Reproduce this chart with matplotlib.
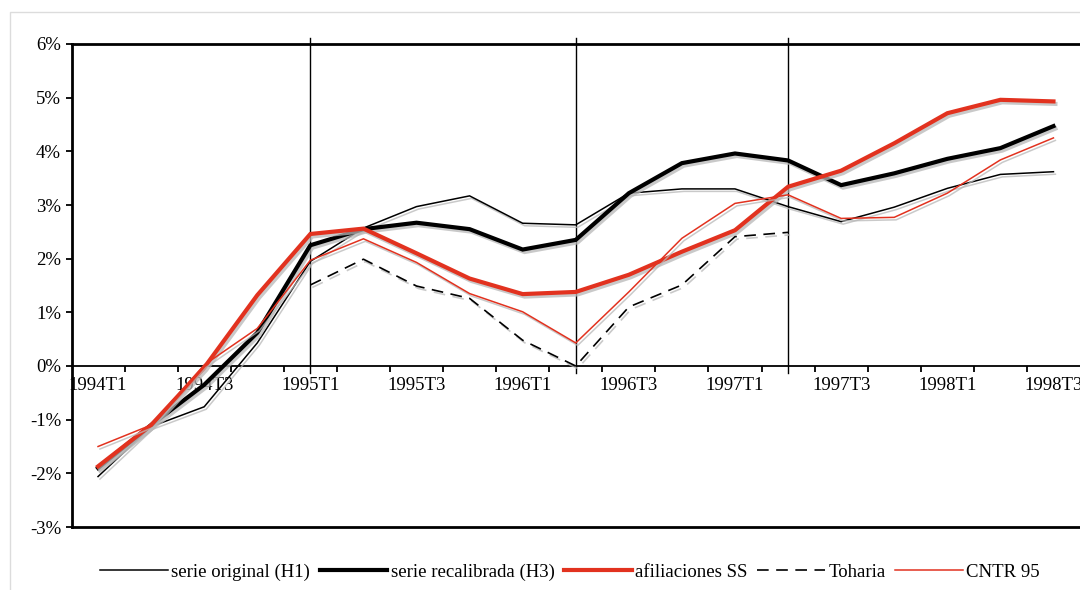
import numpy as np
import matplotlib
matplotlib.use("Agg")
import matplotlib.pyplot as plt
from matplotlib import patheffects as pe
from matplotlib.lines import Line2D
from matplotlib.patches import Rectangle
from matplotlib.ticker import FixedLocator, FuncFormatter

plt.rcParams['font.family'] = ['Liberation Serif', 'DejaVu Serif']

# ---------------- data ----------------
quarters = ['1994T1', '1994T2', '1994T3', '1994T4',
            '1995T1', '1995T2', '1995T3', '1995T4',
            '1996T1', '1996T2', '1996T3', '1996T4',
            '1997T1', '1997T2', '1997T3', '1997T4',
            '1998T1', '1998T2', '1998T3']

serie_original_h1 = [-2.06, -1.13, -0.76, 0.43, 1.95, 2.57, 2.97, 3.17, 2.66, 2.63,
                     3.22, 3.30, 3.30, 2.97, 2.69, 2.96, 3.31, 3.57, 3.62]
serie_recalibrada_h3 = [-1.90, -1.10, -0.35, 0.62, 2.25, 2.55, 2.67, 2.55, 2.17, 2.35,
                        3.22, 3.78, 3.96, 3.83, 3.37, 3.59, 3.86, 4.06, 4.47]
afiliaciones_ss = [-1.87, -1.10, -0.03, 1.32, 2.46, 2.56, 2.10, 1.63, 1.34, 1.38,
                   1.70, 2.13, 2.53, 3.34, 3.64, 4.15, 4.71, 4.96, 4.93]
toharia = [np.nan, np.nan, np.nan, np.nan, 1.51, 1.99, 1.49, 1.26, 0.48, 0.00,
           1.10, 1.51, 2.41, 2.49, np.nan, np.nan, np.nan, np.nan, np.nan]
cntr_95 = [-1.50, -1.10, 0.02, 0.70, 1.97, 2.37, 1.93, 1.35, 1.01, 0.43,
           1.38, 2.38, 3.03, 3.19, 2.75, 2.77, 3.22, 3.84, 4.25]

labels = ['serie original (H1)', 'serie recalibrada (H3)', 'afiliaciones SS',
          'Toharia', 'CNTR 95']
separators = ['1995T1', '1996T2', '1997T2']
y_ticks = [-3, -2, -1, 0, 1, 2, 3, 4, 5, 6]

# ---------------- figure ----------------
fig = plt.figure(figsize=(10.8, 5.9), dpi=100)
fig.patch.set_facecolor('white')
fig.add_artist(Rectangle((10 / 1080, -0.2), 1.2, 1.2 - 12 / 590, transform=fig.transFigure,
                         fill=False, edgecolor='#dcdcdc', lw=1.0))

ax = fig.add_axes([71.5 / 1080, 1 - 527 / 590, 1008.5 / 1080, 483 / 590])
x = np.arange(len(quarters))

red = '#e2321f'
styles = [
    dict(color='black', lw=1.1, ls='-'),
    dict(color='black', lw=3.0, ls='-'),
    dict(color=red, lw=3.0, ls='-'),
    dict(color='black', lw=1.2, ls=(0, (7, 4.5))),
    dict(color=red, lw=1.1, ls='-'),
]
series = [serie_original_h1, serie_recalibrada_h3, afiliaciones_ss, toharia, cntr_95]

for vals, st in zip(series, styles):
    shadow = pe.SimpleLineShadow(offset=(1.4, -1.8), shadow_color='#b8b8b8', alpha=0.75)
    ax.plot(x, vals, color=st['color'], lw=st['lw'], ls=st['ls'],
            solid_joinstyle='miter', dash_capstyle='butt',
            path_effects=[shadow, pe.Normal()], zorder=3)

for s in separators:
    ax.axvline(quarters.index(s), ymin=0.318, ymax=1.012, color='black', lw=1.0,
               clip_on=False, zorder=2)

ax.set_xlim(-0.5, len(quarters) - 0.5)
ax.set_ylim(-3, 6)

ax.set_yticks(y_ticks)
ax.yaxis.set_major_formatter(FuncFormatter(lambda v, p: f"{v:.0f}%"))
ax.tick_params(axis='y', direction='out', length=4.5, width=1.3, labelsize=13.5, pad=3)

ax.xaxis.set_major_locator(FixedLocator(x[::2]))
ax.set_xticklabels(quarters[::2])
ax.xaxis.set_minor_locator(FixedLocator(np.arange(0.5, len(quarters) - 1, 1.0)))
ax.tick_params(axis='x', which='major', length=0, labelsize=13.5, pad=8)
ax.tick_params(axis='x', which='minor', direction='out', length=4.5, width=1.3)

ax.spines['bottom'].set_position(('data', 0))
ax.spines['bottom'].set_linewidth(1.3)
ax.spines['left'].set_linewidth(2.0)
ax.spines['top'].set_linewidth(2.0)
ax.spines['right'].set_visible(False)
ax.axhline(-3, color='black', lw=2.0, clip_on=False, zorder=2)

handles = [Line2D([], [], color=st['color'], lw=st['lw'], ls=st['ls']) for st in styles]
fig.legend(handles, labels, loc='center', bbox_to_anchor=(570 / 1080, 1 - 572 / 590),
           ncol=5, frameon=False, fontsize=13.5, handlelength=3.6,
           handletextpad=0.2, columnspacing=0.5)

fig.savefig('out.png', dpi=100)
